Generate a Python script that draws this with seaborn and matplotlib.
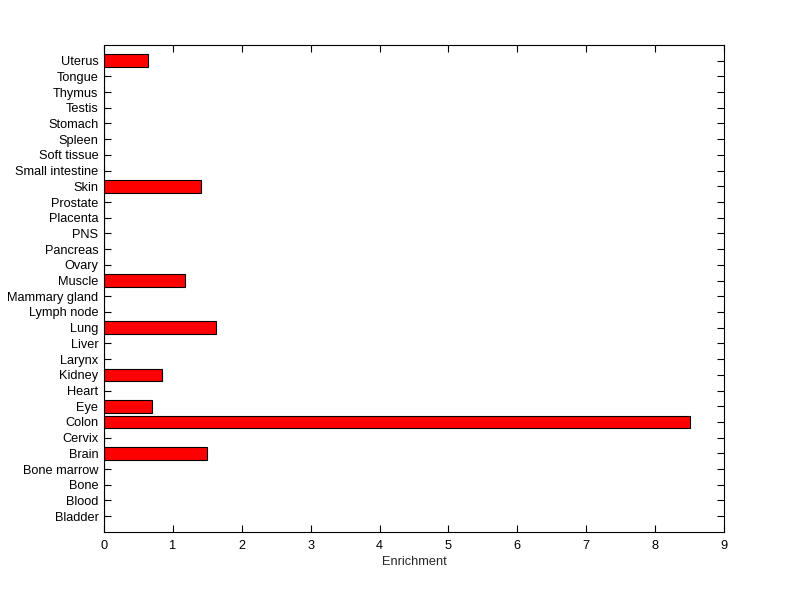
import numpy as np
import pandas as pd
import seaborn as sns
import matplotlib
matplotlib.use("Agg")
import matplotlib.pyplot as plt

# Tissues, top to bottom as shown
tissues = ["Uterus", "Tongue", "Thymus", "Testis", "Stomach", "Spleen",
           "Soft tissue", "Small intestine", "Skin", "Prostate", "Placenta",
           "PNS", "Pancreas", "Ovary", "Muscle", "Mammary gland", "Lymph node",
           "Lung", "Liver", "Larynx", "Kidney", "Heart", "Eye", "Colon",
           "Cervix", "Brain", "Bone marrow", "Bone", "Blood", "Bladder"]
enrichment = [0.64, 0, 0, 0, 0, 0,
              0, 0, 1.41, 0, 0,
              0, 0, 0, 1.18, 0, 0,
              1.63, 0, 0, 0.84, 0, 0.69, 8.50,
              0, 1.50, 0, 0, 0, 0]

df = pd.DataFrame({"tissue": tissues, "enrichment": enrichment})

sns.set_style("white")
plt.rcParams['font.family'] = ['Liberation Sans', 'DejaVu Sans']

fig = plt.figure(figsize=(8, 5.99), dpi=100)
ax = fig.add_axes([0.13, 0.112, 0.775, 0.813])

sns.barplot(data=df, x="enrichment", y="tissue", order=tissues, orient="h",
            color="red", saturation=1, width=0.8, edgecolor="black",
            linewidth=0.8, ax=ax)

n = len(tissues)
ax.set_ylim(n, -1)
ax.set_xlim(0, 9)
ax.set_xticks(range(10))
ax.set_xlabel("Enrichment", fontsize=9.2, labelpad=3)
ax.set_ylabel("")
ax.tick_params(axis="both", direction="in", length=5, width=0.8,
               labelsize=9.2, top=True, right=True, left=True, bottom=True,
               colors="black")
ax.tick_params(axis="x", pad=6)
ax.tick_params(axis="y", pad=4)
for s in ax.spines.values():
    s.set_visible(True)
    s.set_color("black")
    s.set_linewidth(0.8)

fig.savefig("out.png", dpi=100, facecolor="white")
